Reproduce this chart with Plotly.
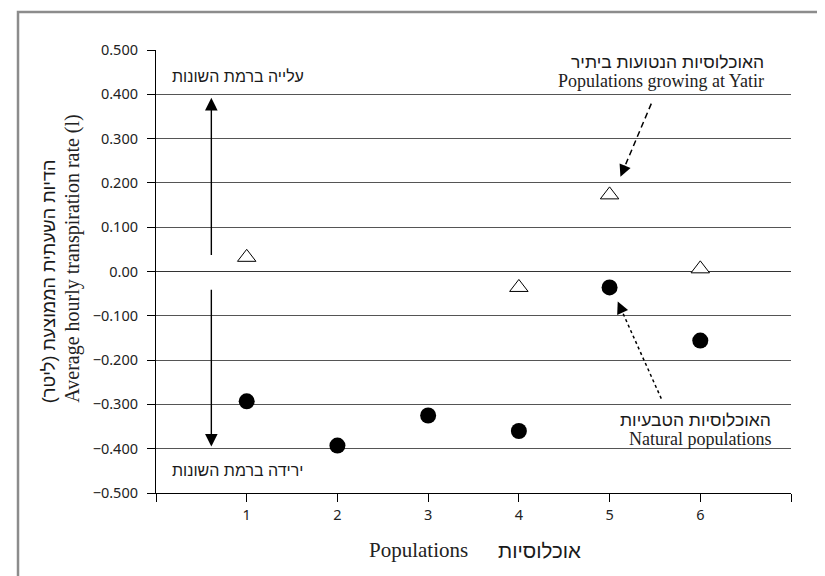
import plotly.graph_objects as go

# ---- data ----
populations = [1, 2, 3, 4, 5, 6]
natural_values = [-0.293, -0.393, -0.325, -0.360, -0.036, -0.156]
yatir_populations = [1, 4, 5, 6]
yatir_values = [0.032, -0.036, 0.173, 0.006]

y_tick_values = [0.5, 0.4, 0.3, 0.2, 0.1, 0.0, -0.1, -0.2, -0.3, -0.4, -0.5]
y_tick_labels = ["0.500", "0.400", "0.300", "0.200", "0.100", "0.00",
                 "\u22120.100", "\u22120.200", "\u22120.300", "\u22120.400", "\u22120.500"]
x_tick_values = [0, 1, 2, 3, 4, 5, 6, 7]
x_tick_labels = ["", "1", "2", "3", "4", "5", "6", ""]

# arrows: (tail_x, tail_y, tip_x, tip_y) in data units
up_arrow = [0.61, 0.034, 0.61, 0.392]
down_arrow = [0.61, -0.038, 0.61, -0.395]
yatir_arrow = [5.46, 0.379, 5.12, 0.214]
natural_arrow = [5.57, -0.287, 5.09, -0.068]

RLM = "\u200f"
label_up = "עלייה ברמת השונות"
label_down = "ירידה ברמת השונות"
yatir_he = "האוכלוסיות הנטועות ביתיר"
yatir_en = "Populations growing at Yatir"
natural_he = "האוכלוסיות הטבעיות"
natural_en = "Natural populations"
ytitle_he = "הדיות השעתית הממוצעת (ליטר)"
ytitle_en = "Average hourly transpiration rate (l)"
xtitle_en = "Populations"
xtitle_he = "אוכלוסיות"

HEB = "Liberation Sans, DejaVu Sans, sans-serif"
SERIF = "Liberation Serif, DejaVu Serif, serif"
TICK = "Noto Sans, Open Sans, sans-serif"
INK = "#1a1a1a"

fig = go.Figure()

fig.add_trace(go.Scatter(
    x=populations, y=natural_values, mode="markers",
    marker=dict(symbol="circle", size=16, color="black"),
    showlegend=False, hoverinfo="skip"))
fig.add_trace(go.Scatter(
    x=yatir_populations, y=yatir_values, mode="markers",
    marker=dict(symbol="triangle-up", size=16, color="white",
                line=dict(color="black", width=1)),
    showlegend=False, hoverinfo="skip"))

annotations = []

# solid arrows
for a in (up_arrow, down_arrow):
    annotations.append(dict(
        x=a[2], y=a[3], ax=a[0], ay=a[1], xref="x", yref="y", axref="x", ayref="y",
        text="", showarrow=True, arrowhead=2, arrowsize=1.8, arrowwidth=1.4,
        arrowcolor="black"))

# dashed arrows: dashed shaft + arrowhead
for a, dash, frac in ((yatir_arrow, "6px,4px", 0.17), (natural_arrow, "3px,3px", 0.12)):
    hx = a[2] + frac * (a[0] - a[2])
    hy = a[3] + frac * (a[1] - a[3])
    fig.add_trace(go.Scatter(
        x=[a[0], hx], y=[a[1], hy], mode="lines",
        line=dict(color="black", width=1.5, dash=dash),
        showlegend=False, hoverinfo="skip"))
    annotations.append(dict(
        x=a[2], y=a[3], ax=hx, ay=hy, xref="x", yref="y", axref="x", ayref="y",
        text="", showarrow=True, arrowhead=2, arrowsize=1.7, arrowwidth=1.4,
        arrowcolor="black"))

# text labels
annotations += [
    dict(x=0.15, y=0.441, xref="x", yref="y", text=label_up, showarrow=False,
         xanchor="left", yanchor="middle", font=dict(family=HEB, size=16, color=INK)),
    dict(x=0.15, y=-0.45, xref="x", yref="y", text=label_down, showarrow=False,
         xanchor="left", yanchor="middle", font=dict(family=HEB, size=16, color=INK)),
    dict(x=6.725, y=0.474, xref="x", yref="y", text=yatir_he, showarrow=False,
         xanchor="right", yanchor="middle", font=dict(family=HEB, size=17.5, color=INK)),
    dict(x=6.725, y=0.429, xref="x", yref="y", text=yatir_en, showarrow=False,
         xanchor="right", yanchor="middle", font=dict(family=SERIF, size=18, color="#222")),
    dict(x=6.80, y=-0.336, xref="x", yref="y", text=natural_he, showarrow=False,
         xanchor="right", yanchor="middle", font=dict(family=HEB, size=17.5, color=INK)),
    dict(x=6.80, y=-0.377, xref="x", yref="y", text=natural_en, showarrow=False,
         xanchor="right", yanchor="middle", font=dict(family=SERIF, size=18, color="#222")),
    # y-axis title (two rotated lines)
    dict(x=-0.168, y=0.199, xref="paper", yref="paper", text=RLM + ytitle_he + RLM,
         showarrow=False, textangle=-90, xanchor="center", yanchor="bottom",
         font=dict(family=HEB, size=18, color=INK)),
    dict(x=-0.131, y=0.199, xref="paper", yref="paper", text=ytitle_en,
         showarrow=False, textangle=-90, xanchor="center", yanchor="bottom",
         font=dict(family=SERIF, size=20, color="#222")),
    # x-axis title
    dict(x=0.4945, y=-0.1287, xref="paper", yref="paper", text=xtitle_en,
         showarrow=False, xanchor="right", yanchor="middle",
         font=dict(family=SERIF, size=21, color="#222")),
    dict(x=0.535, y=-0.1287, xref="paper", yref="paper", text=xtitle_he,
         showarrow=False, xanchor="left", yanchor="middle",
         font=dict(family=HEB, size=20.5, color=INK)),
]

fig.update_layout(
    width=825, height=576,
    margin=dict(l=148, r=42, t=42, b=91),
    paper_bgcolor="white", plot_bgcolor="white",
    annotations=annotations,
    shapes=[dict(type="rect", xref="paper", yref="paper",
                 x0=-0.2173, x1=1.0551, y0=-0.24, y1=1.0858,
                 line=dict(color="#8c8c8c", width=2.5), fillcolor="rgba(0,0,0,0)",
                 layer="below")],
)

fig.update_xaxes(
    range=[0, 7], tickvals=x_tick_values, ticktext=x_tick_labels,
    showgrid=False, zeroline=False,
    showline=True, linecolor="black", linewidth=1.2,
    ticks="outside", ticklen=8, tickwidth=1.2, tickcolor="black",
    tickfont=dict(family=TICK, size=14.5, color="#222"),
)
fig.update_yaxes(
    range=[-0.5, 0.5], tickvals=y_tick_values, ticktext=y_tick_labels,
    showgrid=True, gridcolor="#555555", gridwidth=1.1,
    zeroline=True, zerolinecolor="#333333", zerolinewidth=1.1,
    showline=True, linecolor="black", linewidth=1.2,
    ticks="outside", ticklen=8, tickwidth=1.2, tickcolor="black",
    ticklabelstandoff=6,
    tickfont=dict(family=TICK, size=14.5, color="#222"),
)

fig.write_html("out.html")
